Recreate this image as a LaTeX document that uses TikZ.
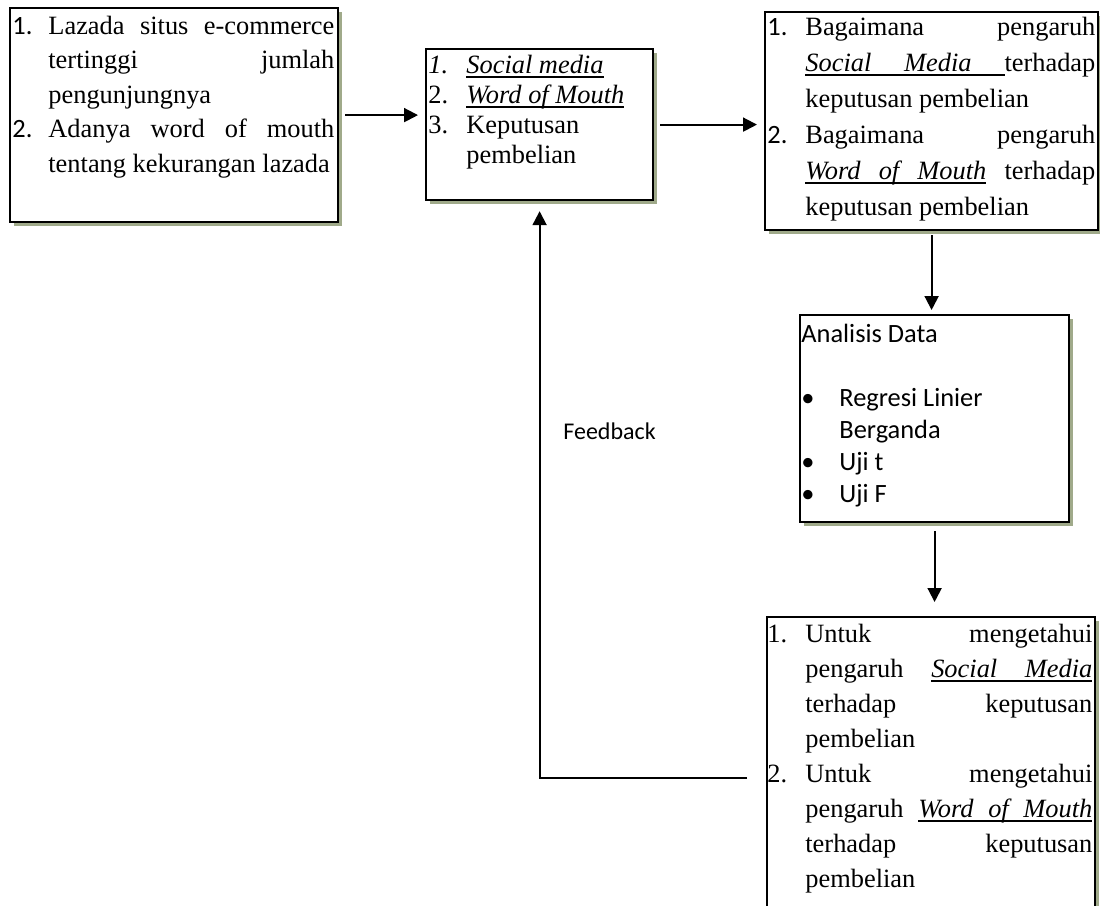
\documentclass[tikz,border=0pt]{standalone}
\usepackage{fontspec}
\setmainfont{Liberation Serif}
\newfontfamily\calibri{Carlito}
\usetikzlibrary{arrows.meta,shadows,calc}

\definecolor{bayang}{RGB}{160,170,138}
\hyphenpenalty=10000
\exhyphenpenalty=10000
\tolerance=10000
\hbadness=10000

% item with hanging label
\newcommand{\itm}[3][19pt]{\noindent\hangindent=#1\hangafter=1\makebox[#1][l]{#2}#3\par}
% underlined word and underlined (stretchable) space
\newsavebox\ulbox
\newcommand{\ulw}[1]{\sbox\ulbox{#1}\rlap{\rule[-2.5pt]{\wd\ulbox}{0.9pt}}\usebox\ulbox}
\newcommand{\uls}{\leaders\hrule height -1.6pt depth 2.5pt\hskip\fontdimen2\font plus\fontdimen3\font minus\fontdimen4\font}

\tikzset{
  panel/.style={draw, line width=1.1pt, fill=white, anchor=north west, inner sep=0pt,
    drop shadow={shadow xshift=2pt, shadow yshift=-2pt, fill=bayang, opacity=1}},
  isi/.style={anchor=base west, inner sep=0pt, align=justify},
  panah/.style={line width=1pt, -{Triangle[length=7pt,width=7pt]}}
}

\begin{document}
\begin{tikzpicture}[x=0.5pt, y=-0.5pt]
\useasboundingbox (0,0) rectangle (1100,906);
\clip (0,0) rectangle (1100,906);

% kotak
\node[panel, minimum width=164pt, minimum height=107pt] (fenomena) at (9,7) {};
\node[panel, minimum width=113.5pt, minimum height=75.5pt] (variabel) at (425,48) {};
\node[panel, minimum width=166.5pt, minimum height=109pt] (rumusan) at (764,11) {};
\node[panel, minimum width=134.5pt, minimum height=103.5pt] (analisis) at (799,314) {};
\node[panel, minimum width=164pt, minimum height=157pt] (tujuan) at (766,616) {};

% isi kotak
\node[isi, text width=161pt, font=\fontsize{13.2}{17.25}\selectfont] (fenomenatxt)
  at ($(fenomena.north west)+(3,27)$) {%
  \itm[18pt]{\calibri 1.}{Lazada situs e-commerce\linebreak tertinggi jumlah\linebreak pengunjungnya}
  \itm[18pt]{\calibri 2.}{Adanya word of mouth\linebreak tentang kekurangan lazada}};

\node[isi, text width=111pt, font=\fontsize{13.2}{15}\selectfont] (variabeltxt)
  at ($(variabel.north west)+(3,25)$) {%
  \itm{\textit{1.}}{{\itshape\ulw{Social}\uls\ulw{media}}}
  \itm{2.}{{\itshape\ulw{Word}\uls\ulw{of}\uls\ulw{Mouth}}}
  \itm{3.}{Keputusan\newline pembelian}};

\node[isi, text width=164pt, font=\fontsize{13.2}{18}\selectfont] (rumusantxt)
  at ($(rumusan.north west)+(3,24)$) {%
  \itm{\calibri 1.}{Bagaimana pengaruh\linebreak {\itshape\ulw{Social}\uls\ulw{Media}\uls}terhadap\linebreak keputusan pembelian}
  \itm{\calibri 2.}{Bagaimana pengaruh\linebreak {\itshape\ulw{Word}\uls\ulw{of}\uls\ulw{Mouth}} terhadap\linebreak keputusan pembelian}};

\node[isi, text width=132.5pt, font=\calibri\fontsize{13.2}{16}\selectfont] (analisistxt)
  at ($(analisis.north west)+(2,28)$) {%
  \raggedright\spaceskip=0pt\xspaceskip=0pt
  \noindent Analisis Data\par
  \mbox{}\par
  \itm{\textbullet}{Regresi Linier\newline Berganda}
  \itm{\textbullet}{Uji t}
  \itm{\textbullet}{Uji F}};

\node[isi, text width=162.5pt, font=\fontsize{13.2}{17.5}\selectfont] (tujuantxt)
  at ($(tujuan.north west)+(1,26)$) {%
  \itm{1.}{Untuk mengetahui\linebreak pengaruh {\itshape\ulw{Social}\uls\ulw{Media}}\linebreak terhadap keputusan\linebreak pembelian}
  \itm{2.}{Untuk mengetahui\linebreak pengaruh {\itshape\ulw{Word}\uls\ulw{of}\uls\ulw{Mouth}}\linebreak terhadap keputusan\linebreak pembelian}};

% panah
\draw[panah, shorten <=3pt, shorten >=3.5pt] (fenomena.east) -- (fenomena.east -| variabel.west);
\draw[panah, shorten <=3pt, shorten >=3.5pt] (variabel.east) -- (variabel.east -| rumusan.west);
\draw[panah, shorten <=2pt, shorten >=2pt] (rumusan.south) -- (rumusan.south |- analisis.north);
\draw[panah, shorten <=4pt, shorten >=7pt] (analisis.south) -- (analisis.south |- tujuan.north);

% feedback
\coordinate (fb) at (747,778);
\draw[panah, shorten >=5pt] (fb) -| (variabel.south);
\node[anchor=base west, inner sep=0pt, font=\calibri\fontsize{12}{14}\selectfont] (umpan) at (563,439) {Feedback};
\end{tikzpicture}
\end{document}
